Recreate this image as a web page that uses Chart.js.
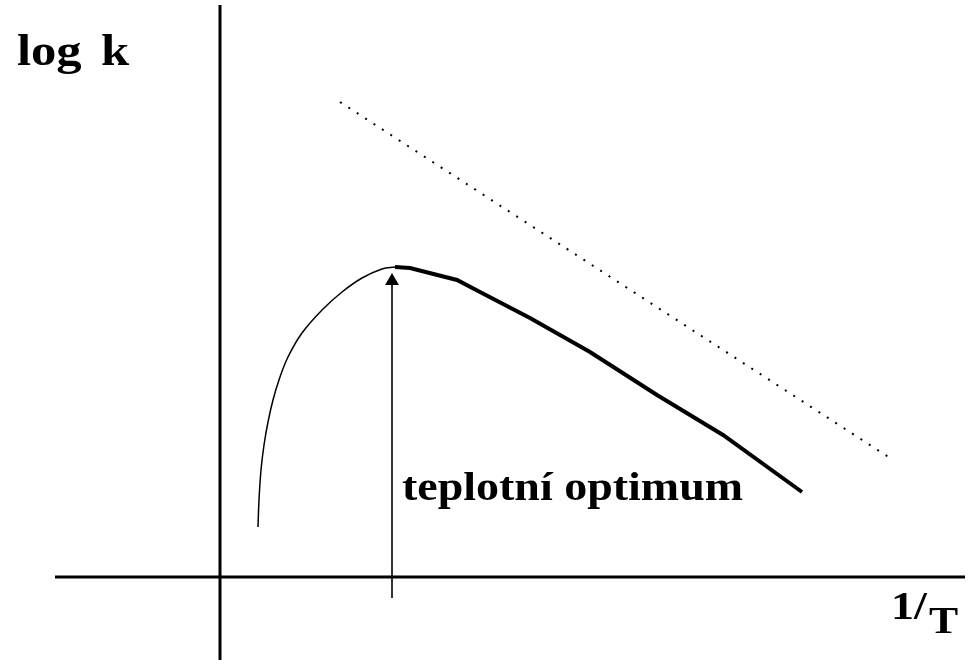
<!DOCTYPE html>
<html>
<head>
<meta charset="utf-8">
<script src="https://cdn.jsdelivr.net/npm/chart.js@4/dist/chart.umd.min.js"></script>
<style>
html,body{margin:0;padding:0;background:#fff;overflow:hidden;}
#wrap{width:977px;height:672px;}
</style>
</head>
<body>
<div id="wrap"><canvas id="c" width="977" height="672"></canvas></div>
<script>
// Schematic: log k versus 1/T (arbitrary units, origin at axes crossing)
const risingBranch = [
  {x:0.38,y:0.50},{x:0.39,y:0.77},{x:0.41,y:1.07},{x:0.44,y:1.32},
  {x:0.48,y:1.55},{x:0.53,y:1.77},{x:0.59,y:1.97},{x:0.68,y:2.20},
  {x:0.82,y:2.44},{x:1.02,y:2.67},{x:1.22,y:2.85},{x:1.42,y:2.99},
  {x:1.62,y:3.08},{x:1.75,y:3.10}
];
const arrheniusBranch = [
  {x:1.75,y:3.10},{x:1.90,y:3.09},{x:2.37,y:2.97},{x:2.60,y:2.85},
  {x:3.10,y:2.59},{x:3.70,y:2.25},{x:4.37,y:1.82},{x:5.03,y:1.42},
  {x:5.82,y:0.85}
];
const idealLine = [{x:1.20,y:4.75},{x:6.70,y:1.19}];
const optimumArrow = [{x:1.72,y:-0.21},{x:1.72,y:2.96}];
const xAxisLine = [{x:-1.65,y:0},{x:7.45,y:0}];
const yAxisLine = [{x:0,y:5.72},{x:0,y:-0.83}];
const labels = {yTitle:["log","k"], xTitle:["1/","T"], optimum:"teplotní optimum"};

const STRETCH = 1.15;
function wideText(ctx, s, x, y){
  ctx.save();
  ctx.translate(x, y);
  ctx.scale(STRETCH, 1);
  ctx.fillText(s, 0, 0);
  ctx.restore();
}

const textPlugin = {
  id:'texts',
  afterDraw(chart){
    const ctx = chart.ctx;
    const xs = chart.scales.x, ys = chart.scales.y;
    ctx.save();
    ctx.fillStyle = '#000';
    ctx.textBaseline = 'alphabetic';
    ctx.textAlign = 'left';
    const ax = xs.getPixelForValue(0), ay = ys.getPixelForValue(0);
    ctx.font = 'bold 44px "Liberation Serif", "Times New Roman", serif';
    wideText(ctx, labels.yTitle[0], ax - 203, 65);
    wideText(ctx, labels.yTitle[1], ax - 119, 65);
    ctx.font = 'bold 40px "Liberation Serif", "Times New Roman", serif';
    wideText(ctx, labels.xTitle[0], 891, ay + 42);
    ctx.font = 'bold 38px "Liberation Serif", "Times New Roman", serif';
    wideText(ctx, labels.xTitle[1], 929, ay + 56);
    ctx.font = 'bold 40px "Liberation Serif", "Times New Roman", serif';
    const px = xs.getPixelForValue(optimumArrow[0].x);
    const w = ctx.measureText(labels.optimum).width;
    ctx.translate(px + 10, 500);
    ctx.scale(341 / w, 1);
    ctx.fillText(labels.optimum, 0, 0);
    ctx.restore();
  }
};

new Chart(document.getElementById('c'), {
  type:'line',
  data:{
    datasets:[
      {data:xAxisLine, borderColor:'#000', borderWidth:3, pointRadius:0, clip:false},
      {data:yAxisLine, borderColor:'#000', borderWidth:3, pointRadius:0, clip:false},
      {data:risingBranch, borderColor:'#000', borderWidth:1.5, pointRadius:0, tension:0.4, clip:false},
      {data:arrheniusBranch, borderColor:'#000', borderWidth:4, pointRadius:0, tension:0, clip:false},
      {data:idealLine, borderColor:'#000', borderWidth:2, borderDash:[2,8], pointRadius:0, clip:false},
      {data:optimumArrow, borderColor:'#333', borderWidth:2, pointStyle:'triangle',
       pointRadius:[0,8], pointBackgroundColor:'#000', pointBorderColor:'#000', pointBorderWidth:0, clip:false}
    ]
  },
  options:{
    responsive:false,
    animation:false,
    devicePixelRatio:1,
    layout:{padding:0, autoPadding:false},
    plugins:{legend:{display:false}, tooltip:{enabled:false}},
    scales:{
      x:{type:'linear', min:-2.2, max:7.57, display:false},
      y:{type:'linear', min:-0.95, max:5.77, display:false}
    }
  },
  plugins:[textPlugin]
});
</script>
</body>
</html>
